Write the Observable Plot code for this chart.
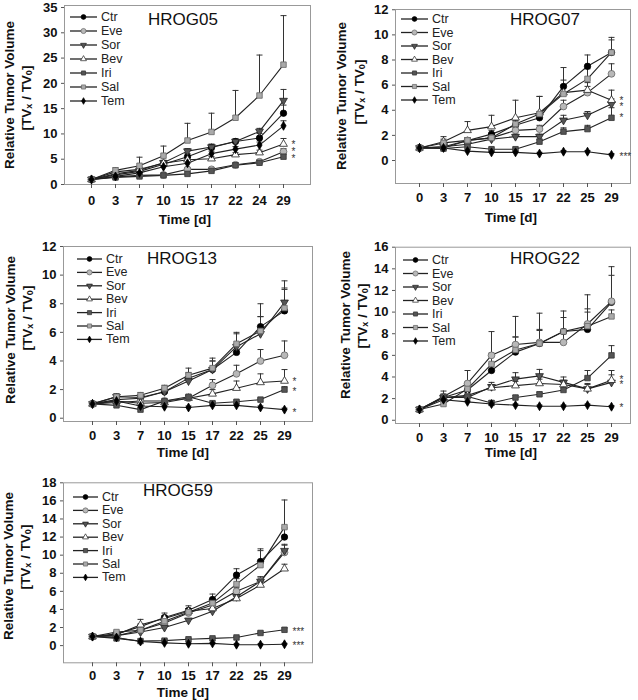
<!DOCTYPE html>
<html><head><meta charset="utf-8">
<script src="https://cdn.jsdelivr.net/npm/d3@7"></script>
<script src="https://cdn.jsdelivr.net/npm/@observablehq/plot@0.6"></script>
<style>
body{margin:0;background:#fff;}
#chart{position:relative;width:638px;height:700px;font-family:"Liberation Sans",Arial,sans-serif;}
#chart svg{position:absolute;}
</style></head><body><div id="chart"></div>
<script>
// ---------- DATA ----------
const seriesNames = ["Ctr","Eve","Sor","Bev","Iri","Sal","Tem"];
const days05 = ["0","3","7","10","15","17","22","24","29"];
const daysOther = ["0","3","7","10","15","17","22","25","29"];

// HROG05 (rows follow seriesNames)
const hrog05Mean = [
  [1,1.9,2.6,4.0,5.5,7.3,8.5,9.2,14.1],
  [1,1.5,1.8,1.9,3.0,3.0,3.9,4.5,6.5],
  [1,2.1,2.8,4.3,6.6,7.4,8.5,10.5,16.6],
  [1,2.5,3.0,4.2,4.9,5.1,5.9,6.3,8.0],
  [1,1.4,1.6,1.8,2.1,2.7,3.8,4.3,5.5],
  [1,2.8,3.7,5.7,8.7,10.4,13.2,17.6,23.7],
  [1,1.6,2.3,3.5,4.2,6.1,7.0,7.8,11.6]
];
const hrog05Err = [
  [0,0.3,0.5,0.5,0.6,0.6,0.5,0.9,1.6],
  [0,0.2,0.2,0.2,0.3,0.3,0.4,0.4,0.6],
  [0,0.3,0.5,0.5,0.5,0.6,0.5,0.6,2.2],
  [0,0.3,0.4,0.4,0.4,0.4,0.4,0.5,1.1],
  [0,0.1,0.2,0.2,0.2,0.3,0.3,0.4,0.5],
  [0,0.5,1.7,1.9,3.4,3.7,5.4,8.0,9.7],
  [0,0.2,0.3,0.4,0.5,0.5,0.5,0.6,1.0]
];
// significance marks at day 29 (stacked marks share one label)
const hrog05StarY = [6.7];
const hrog05StarText = ["*\n*\n*"];

// HROG07
const hrog07Mean = [
  [1,1.0,1.6,2.1,2.8,3.4,5.9,7.5,8.6],
  [1,1.1,1.6,1.8,2.4,2.5,4.3,5.4,6.9],
  [1,1.1,1.3,1.7,1.9,1.9,3.2,3.6,4.5],
  [1,1.5,2.4,2.7,3.4,3.8,5.4,5.6,4.8],
  [1,0.95,1.1,0.9,0.9,1.5,2.3,2.5,3.4],
  [1,1.4,1.6,1.8,2.9,3.7,5.3,6.5,8.6],
  [1,1.0,0.75,0.65,0.65,0.55,0.7,0.7,0.45]
];
const hrog07Err = [
  [0,0.2,0.2,0.3,0.4,0.5,1.5,0.9,1.2],
  [0,0.2,0.2,0.3,0.3,0.3,0.5,0.5,0.8],
  [0,0.2,0.2,0.2,0.2,0.2,0.4,0.3,0.4],
  [0,0.4,0.7,0.9,1.4,1.3,0.6,0.6,0.8],
  [0,0.1,0.1,0.1,0.1,0.2,0.3,0.3,0.8],
  [0,0.3,0.2,0.3,0.4,1.4,1.1,0.8,1.0],
  [0,0.1,0.1,0.1,0.1,0.1,0.1,0.1,0.1]
];
const hrog07StarY = [4.6,3.45,0.4];
const hrog07StarText = ["*\n*","*","***"];

// HROG13
const hrog13Mean = [
  [1,1.3,1.4,1.85,2.8,3.4,4.6,6.4,7.5],
  [1,1.1,1.2,1.2,1.4,2.3,3.1,4.0,4.4],
  [1,1.5,1.45,1.85,2.6,3.4,5.0,5.9,8.1],
  [1,1.2,1.05,1.1,1.4,1.7,2.1,2.5,2.6],
  [1,0.9,0.6,1.2,1.5,1.05,1.15,1.3,2.0],
  [1,1.5,1.6,2.1,3.0,3.5,5.2,6.1,7.7],
  [1,1.2,0.85,0.8,0.75,0.9,0.9,0.75,0.6]
];
const hrog13Err = [
  [0,0.2,0.2,0.2,0.4,0.6,0.6,0.7,1.5],
  [0,0.1,0.1,0.1,0.2,0.4,0.6,0.8,1.0],
  [0,0.2,0.2,0.3,0.5,0.6,0.9,1.2,1.5],
  [0,0.1,0.1,0.1,0.2,0.3,0.5,0.6,0.8],
  [0,0.1,0.1,0.1,0.1,0.1,0.1,0.1,0.2],
  [0,0.2,0.2,0.2,0.5,0.7,0.8,1.9,1.4],
  [0,0.1,0.1,0.1,0.1,0.1,0.1,0.1,0.1]
];
const hrog13StarY = [2.7,2.0,0.55];
const hrog13StarText = ["*","*","*"];

// HROG22
const hrog22Mean = [
  [1,2.1,2.8,4.6,6.3,7.1,8.2,8.4,10.9],
  [1,2.2,3.4,6.0,7.0,7.2,7.2,8.9,11.0],
  [1,2.1,2.1,3.1,3.8,4.1,3.5,2.9,3.5],
  [1,2.1,2.3,3.0,3.2,3.4,3.3,2.9,3.7],
  [1,2.1,2.2,1.6,2.1,2.4,2.8,3.9,6.0],
  [1,1.5,2.9,5.2,6.5,7.1,8.2,8.7,9.6],
  [1,1.9,1.7,1.5,1.4,1.3,1.3,1.4,1.25]
];
const hrog22Err = [
  [0,0.3,0.4,0.6,1.4,1.3,1.3,1.6,2.5],
  [0,0.5,1.2,2.2,2.6,2.7,1.0,1.4,3.2],
  [0,0.3,0.3,0.4,0.6,0.6,0.5,0.5,0.7],
  [0,0.3,0.3,0.3,0.4,0.4,0.4,0.4,0.9],
  [0,0.2,0.2,0.2,0.2,0.2,0.2,0.7,0.9],
  [0,0.3,0.5,1.0,1.2,1.2,1.9,2.9,0.6],
  [0,0.1,0.1,0.1,0.1,0.1,0.1,0.1,0.1]
];
const hrog22StarY = [3.55,1.2];
const hrog22StarText = ["*\n*","*"];

// HROG59
const hrog59Mean = [
  [1,1.3,2.1,3.1,3.9,5.1,7.8,9.3,12.0],
  [1,1.1,1.7,2.5,3.6,4.5,6.0,7.1,10.3],
  [1,1.1,1.5,2.0,2.8,3.8,5.4,7.1,10.5],
  [1,1.2,2.3,3.0,3.8,4.1,5.2,6.7,8.5],
  [1,0.8,0.5,0.55,0.7,0.8,0.9,1.4,1.75],
  [1,1.5,1.7,2.7,3.7,4.7,6.8,8.9,13.1],
  [1,0.9,0.45,0.3,0.2,0.25,0.1,0.1,0.15]
];
const hrog59Err = [
  [0,0.2,0.3,0.5,0.5,0.6,0.7,1.4,1.0],
  [0,0.1,0.2,0.2,0.3,0.3,0.4,0.5,0.8],
  [0,0.1,0.2,0.2,0.2,0.2,0.3,0.5,0.7],
  [0,0.2,0.6,0.3,0.3,0.3,0.3,0.4,0.5],
  [0,0.1,0.1,0.1,0.1,0.1,0.1,0.1,0.2],
  [0,0.1,0.2,0.3,0.4,0.4,0.6,1.6,3.0],
  [0,0.1,0.1,0.1,0.1,0.1,0.1,0.1,0.1]
];
const hrog59StarY = [1.8,0.15];
const hrog59StarText = ["***","***"];

const yTicks05 = [0,5,10,15,20,25,30,35];
const yTicks07 = [0,2,4,6,8,10,12];
const yTicks13 = [0,2,4,6,8,10,12];
const yTicks22 = [0,2,4,6,8,10,12,14,16];
const yTicks59 = [0,2,4,6,8,10,12,14,16,18];

// ---------- STYLE ----------
const sqrt3 = Math.sqrt(3);
const symbolDownTriangle = {
  draw(ctx, size) {
    const y = -Math.sqrt(size / (sqrt3 * 3));
    ctx.moveTo(0, -y * 2);
    ctx.lineTo(-sqrt3 * y, y);
    ctx.lineTo(sqrt3 * y, y);
    ctx.closePath();
  }
};
const symbolCap = {
  draw(ctx, size) {
    const w = Math.sqrt(size / Math.PI);
    ctx.moveTo(-w, 0);
    ctx.lineTo(w, 0);
  }
};
const seriesStyle = {
  Ctr: {symbol: d3.symbolCircle, r: 3.2, fill: "#000", stroke: "#000"},
  Eve: {symbol: d3.symbolCircle, r: 3.4, fill: "#b8b8b8", stroke: "#666"},
  Sor: {symbol: symbolDownTriangle, r: 2.9, fill: "#555", stroke: "#222"},
  Bev: {symbol: d3.symbolTriangle, r: 2.9, fill: "#fff", stroke: "#222"},
  Iri: {symbol: d3.symbolSquare, r: 3.1, fill: "#555", stroke: "#333"},
  Sal: {symbol: d3.symbolSquare, r: 3.1, fill: "#aaa", stroke: "#666"},
  Tem: {symbol: d3.symbolDiamond, r: 2.7, fill: "#000", stroke: "#000"}
};

// ---------- LAYOUT ----------
const panels = [
  {title: "HROG05", days: days05, mean: hrog05Mean, err: hrog05Err, starY: hrog05StarY, starT: hrog05StarText, starLH: 0.71,
   yTicks: yTicks05, yDomain: [0, 35.4], left: 0, top: 0, width: 318, height: 228,
   m: {l: 64, r: 8, t: 5, b: 44}, xPad: 7, xPadding: 0.96, xAlign: 0.5,
   titlePos: [183, 19], legend: {x1: 70, x2: 97, tx: 101, y: 17, step: 14},
   yT1: [9, 95], yT2: [26, 98], xT: [185, 219]},
  {title: "HROG07", days: daysOther, mean: hrog07Mean, err: hrog07Err, starY: hrog07StarY, starT: hrog07StarText, starLH: 0.63,
   yTicks: yTicks07, yDomain: [-1.83, 12.02], left: 318, top: 0, width: 320, height: 228,
   m: {l: 77, r: 8, t: 9, b: 45}, xPad: 5, xPadding: 0.875, xAlign: 0.55,
   titlePos: [545, 19], legend: {x1: 401, x2: 428, tx: 432, y: 19, step: 13.5},
   yT1: [341, 96], yT2: [359, 92], xT: [511, 217]},
  {title: "HROG13", days: daysOther, mean: hrog13Mean, err: hrog13Err, starY: hrog13StarY, starT: hrog13StarText, starLH: 1,
   yTicks: yTicks13, yDomain: [-0.23, 12], left: 0, top: 228, width: 318, height: 232,
   m: {l: 63, r: 6, t: 18, b: 39}, xPad: 5, xPadding: 1.0, xAlign: 0.5,
   titlePos: [182, 258], legend: {x1: 77, x2: 102, tx: 106, y: 259, step: 13.4},
   yT1: [10, 330], yT2: [27, 318], xT: [183, 452]},
  {title: "HROG22", days: daysOther, mean: hrog22Mean, err: hrog22Err, starY: hrog22StarY, starT: hrog22StarText, starLH: 0.54,
   yTicks: yTicks22, yDomain: [-0.3, 16], left: 318, top: 228, width: 320, height: 232,
   m: {l: 77, r: 8, t: 18.7, b: 37}, xPad: 5, xPadding: 0.875, xAlign: 0.55,
   titlePos: [545, 258], legend: {x1: 403, x2: 428, tx: 432, y: 260, step: 13.5},
   yT1: [345, 325], yT2: [362, 316], xT: [511, 452]},
  {title: "HROG59", days: daysOther, mean: hrog59Mean, err: hrog59Err, starY: hrog59StarY, starT: hrog59StarText, starLH: 1,
   yTicks: yTicks59, yDomain: [-1.9, 18], left: 0, top: 460, width: 318, height: 240,
   m: {l: 63, r: 6, t: 22.3, b: 37.7}, xPad: 4, xPadding: 1.0, xAlign: 0.5,
   titlePos: [178, 490], legend: {x1: 73, x2: 98, tx: 102, y: 497, step: 13.4},
   yT1: [8, 566], yT2: [25, 557], xT: [183, 692]}
];

const FONT = "'Liberation Sans', Arial, sans-serif";
const chart = document.getElementById("chart");

function makePanel(p) {
  const rows = [];
  seriesNames.forEach((s, i) => p.days.forEach((d, j) =>
    rows.push({series: s, day: d, v: p.mean[i][j], e: p.err[i][j]})));
  const errRows = rows.filter(r => r.e > 0);
  const lastDay = p.days[p.days.length - 1];
  const stars = p.starY.map((v, i) => ({v, t: p.starT[i]}));

  const marks = [
    Plot.frame({stroke: "#999", strokeWidth: 1}),
    Plot.axisY({ticks: p.yTicks, tickSize: 3, tickPadding: 4, label: null, stroke: "#555"}),
    Plot.axisX({tickSize: 4, tickPadding: p.xPad, label: null, stroke: "#555"})
  ];
  seriesNames.forEach(s => {
    marks.push(Plot.line(rows.filter(r => r.series === s), {x: "day", y: "v", stroke: "#222", strokeWidth: 1.1}));
  });
  marks.push(Plot.ruleX(errRows, {x: "day", y1: "v", y2: d => d.v + d.e, stroke: "#333", strokeWidth: 1}));
  marks.push(Plot.dot(errRows, {x: "day", y: d => d.v + d.e, symbol: symbolCap, r: 3, stroke: "#333", fill: "none", strokeWidth: 1}));
  seriesNames.forEach(s => {
    const st = seriesStyle[s];
    marks.push(Plot.dot(rows.filter(r => r.series === s), {x: "day", y: "v", symbol: st.symbol, r: st.r, fill: st.fill, stroke: st.stroke, strokeWidth: 0.8}));
  });
  marks.push(Plot.text(stars, {x: () => lastDay, y: "v", text: "t", textAnchor: "start", lineAnchor: "middle", lineHeight: p.starLH,
    dx: 8, dy: 2, fontSize: 10, fontWeight: "normal", fill: "#333"}));

  const svgEl = Plot.plot({
    width: p.width, height: p.height,
    marginLeft: p.m.l, marginRight: p.m.r, marginTop: p.m.t, marginBottom: p.m.b,
    x: {type: "point", domain: p.days, padding: p.xPadding, align: p.xAlign},
    y: {domain: p.yDomain},
    style: {fontFamily: FONT, fontSize: "13px", fontWeight: "bold", color: "#111", background: "transparent", overflow: "visible"},
    marks
  });
  svgEl.style.left = p.left + "px";
  svgEl.style.top = p.top + "px";
  chart.appendChild(svgEl);

  const svg = d3.select(svgEl);
  const g = svg.append("g").attr("font-family", FONT).attr("text-anchor", "start");
  const L = (x) => x - p.left, T = (y) => y - p.top;

  // Title
  g.append("text").attr("x", L(p.titlePos[0])).attr("y", T(p.titlePos[1]))
    .attr("text-anchor", "middle").attr("dominant-baseline", "central")
    .attr("font-size", 17).attr("font-weight", "normal").attr("fill", "#111").text(p.title);

  // Legend
  seriesNames.forEach((s, i) => {
    const st = seriesStyle[s];
    const y = T(p.legend.y + i * p.legend.step);
    g.append("line").attr("x1", L(p.legend.x1)).attr("x2", L(p.legend.x2)).attr("y1", y).attr("y2", y)
      .attr("stroke", "#222").attr("stroke-width", 1.3);
    const cx = L((p.legend.x1 + p.legend.x2) / 2);
    const lr = st.r * 0.75;
    g.append("path").attr("d", d3.symbol(st.symbol, Math.PI * lr * lr)())
      .attr("transform", `translate(${cx},${y})`).attr("fill", st.fill).attr("stroke", st.stroke).attr("stroke-width", 0.7);
    g.append("text").attr("x", L(p.legend.tx)).attr("y", y).attr("dominant-baseline", "central")
      .attr("text-anchor", "start")
      .attr("font-size", 12.5).attr("font-weight", "normal").attr("fill", "#222").text(s);
  });

  // Y title line 1
  g.append("text").attr("transform", `translate(${L(p.yT1[0])},${T(p.yT1[1])}) rotate(-90)`)
    .attr("text-anchor", "middle").attr("dominant-baseline", "central")
    .attr("font-size", 13.5).attr("font-weight", "bold").attr("fill", "#111").text("Relative Tumor Volume");
  // Y title line 2 with subscripts
  const t2 = g.append("text").attr("transform", `translate(${L(p.yT2[0])},${T(p.yT2[1])}) rotate(-90)`)
    .attr("text-anchor", "middle").attr("dominant-baseline", "central")
    .attr("font-size", 13.5).attr("font-weight", "bold").attr("fill", "#111");
  t2.append("tspan").text("[TV");
  t2.append("tspan").attr("dy", 3).attr("font-size", 9).text("x");
  t2.append("tspan").attr("dy", -3).text(" / TV");
  t2.append("tspan").attr("dy", 3).attr("font-size", 9).text("0");
  t2.append("tspan").attr("dy", -3).text("]");

  // X title
  g.append("text").attr("x", L(p.xT[0])).attr("y", T(p.xT[1]))
    .attr("text-anchor", "middle").attr("dominant-baseline", "central")
    .attr("font-size", 13.5).attr("font-weight", "bold").attr("fill", "#111").text("Time [d]");
}

panels.forEach(makePanel);
</script>
</body></html>
